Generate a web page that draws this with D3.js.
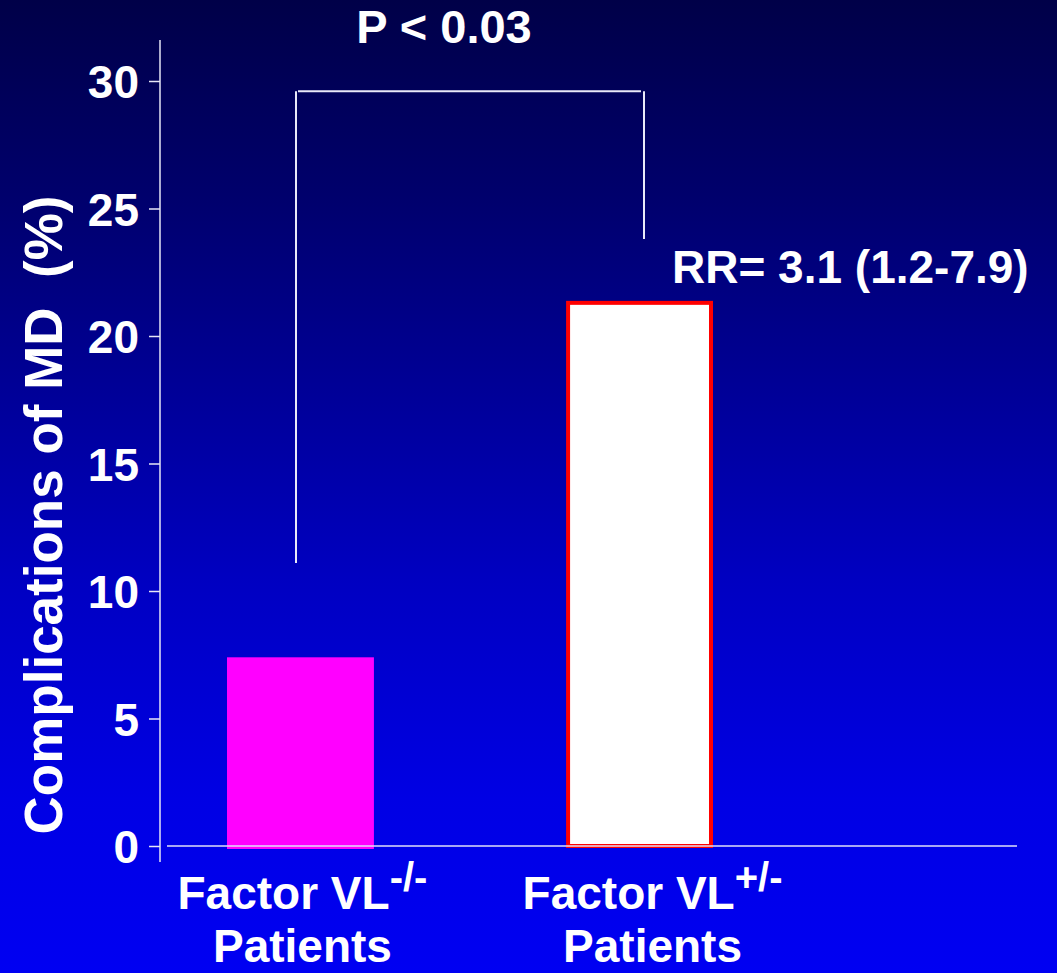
<!DOCTYPE html>
<html>
<head>
<meta charset="utf-8">
<script src="https://cdn.jsdelivr.net/npm/d3@7"></script>
<style>
  html, body { margin: 0; padding: 0; background: #0000e0; }
  svg { display: block; }
  text { font-family: "Liberation Sans", Arial, sans-serif; font-weight: bold; fill: #ffffff; }
</style>
</head>
<body>
<script>
// ---- data ----
const categories = ["Factor VL-/-", "Factor VL+/-"];
const mainLabels = ["Factor VL", "Factor VL"];
const superscripts = ["-/-", "+/-"];
const secondLine = ["Patients", "Patients"];
const values = [7.4, 21.3];
const yTicks = [0, 5, 10, 15, 20, 25, 30];
const yTitle = "Complications of MD  (%)";
const pText = "P < 0.03";
const rrText = "RR= 3.1 (1.2-7.9)";
const bracketLeftValue = 11.1;
const bracketTopValue = 29.6;
const bracketRightValue = 23.8;

// ---- layout ----
const W = 1057, H = 973;
const svg = d3.select("body").append("svg").attr("width", W).attr("height", H);

const defs = svg.append("defs");
const grad = defs.append("linearGradient").attr("id", "bg")
  .attr("x1", 0).attr("y1", 0).attr("x2", 0).attr("y2", 1);
[[0, "#000048"], [0.2, "#00006c"], [0.6, "#0000c2"], [0.82, "#0000e4"], [1, "#0000f2"]]
  .forEach(([o, c]) => grad.append("stop").attr("offset", o).attr("stop-color", c));
svg.append("rect").attr("width", W).attr("height", H).attr("fill", "url(#bg)");

const y = d3.scaleLinear().domain([0, 30]).range([846, 81]);
const x = d3.scaleBand().domain(categories).range([227, 714]).paddingInner(0.568).paddingOuter(0);
const bw = x.bandwidth();

// y axis line
svg.append("line").attr("x1", 160).attr("x2", 160).attr("y1", 40).attr("y2", 862)
  .attr("stroke", "#e6e6f6").attr("stroke-width", 1.5);

// y axis ticks and labels via d3 axis
const yAxis = d3.axisLeft(y).tickValues(yTicks).tickSize(11).tickPadding(10);
const gy = svg.append("g").attr("transform", "translate(160,0)").call(yAxis);
gy.select(".domain").remove();
gy.selectAll(".tick line").attr("stroke", "#e6e6f6").attr("stroke-width", 1.5);
gy.selectAll(".tick text")
  .style("font-family", "'Liberation Sans', Arial, sans-serif")
  .style("font-weight", "bold").style("font-size", "46px").attr("fill", "#fff")
  .attr("dy", "0.36em");

// bars
svg.append("rect")
  .attr("x", x(categories[0])).attr("width", bw)
  .attr("y", y(values[0])).attr("height", y(0) - y(values[0]) + 3)
  .attr("fill", "#ff00ff");

svg.append("rect")
  .attr("x", x(categories[1]) + 1).attr("width", bw - 4)
  .attr("y", y(values[1])).attr("height", y(0) - y(values[1]))
  .attr("fill", "#ffffff").attr("stroke", "#ff0000").attr("stroke-width", 4);

// baseline
svg.append("line").attr("x1", 167).attr("x2", 1017).attr("y1", y(0)).attr("y2", y(0))
  .attr("stroke", "#e0e0f8").attr("stroke-width", 1.5);

// bracket
const bl = 296, br = 644;
const bstroke = "#e8e8f8";
svg.append("line").attr("x1", bl).attr("x2", bl).attr("y1", y(bracketTopValue)).attr("y2", y(bracketLeftValue))
  .attr("stroke", bstroke).attr("stroke-width", 2);
svg.append("line").attr("x1", bl + 2).attr("x2", br - 3).attr("y1", y(bracketTopValue)).attr("y2", y(bracketTopValue))
  .attr("stroke", bstroke).attr("stroke-width", 2);
svg.append("line").attr("x1", br).attr("x2", br).attr("y1", y(bracketTopValue)).attr("y2", y(bracketRightValue))
  .attr("stroke", bstroke).attr("stroke-width", 2);

// annotations
svg.append("text").attr("x", 444).attr("y", 43).attr("text-anchor", "middle")
  .style("font-size", "47px").text(pText);
svg.append("text").attr("x", 672).attr("y", 283)
  .style("font-size", "46px").text(rrText);

// y title
svg.append("text")
  .attr("transform", "translate(62,515) rotate(-90)")
  .attr("text-anchor", "middle")
  .style("font-size", "53px")
  .attr("xml:space", "preserve")
  .style("white-space", "pre")
  .text(yTitle);

// x labels
const nudge = [2, 12];
categories.forEach((c, i) => {
  const cx = x(c) + bw / 2 + nudge[i];
  const t = svg.append("text").attr("x", cx).attr("y", 909).attr("text-anchor", "middle")
    .style("font-size", "46px");
  t.append("tspan").text(mainLabels[i]);
  t.append("tspan").attr("dy", -18).style("font-size", "40px").text(superscripts[i]);
  svg.append("text").attr("x", cx).attr("y", 962).attr("text-anchor", "middle")
    .style("font-size", "46px").text(secondLine[i]);
});
</script>
</body>
</html>
